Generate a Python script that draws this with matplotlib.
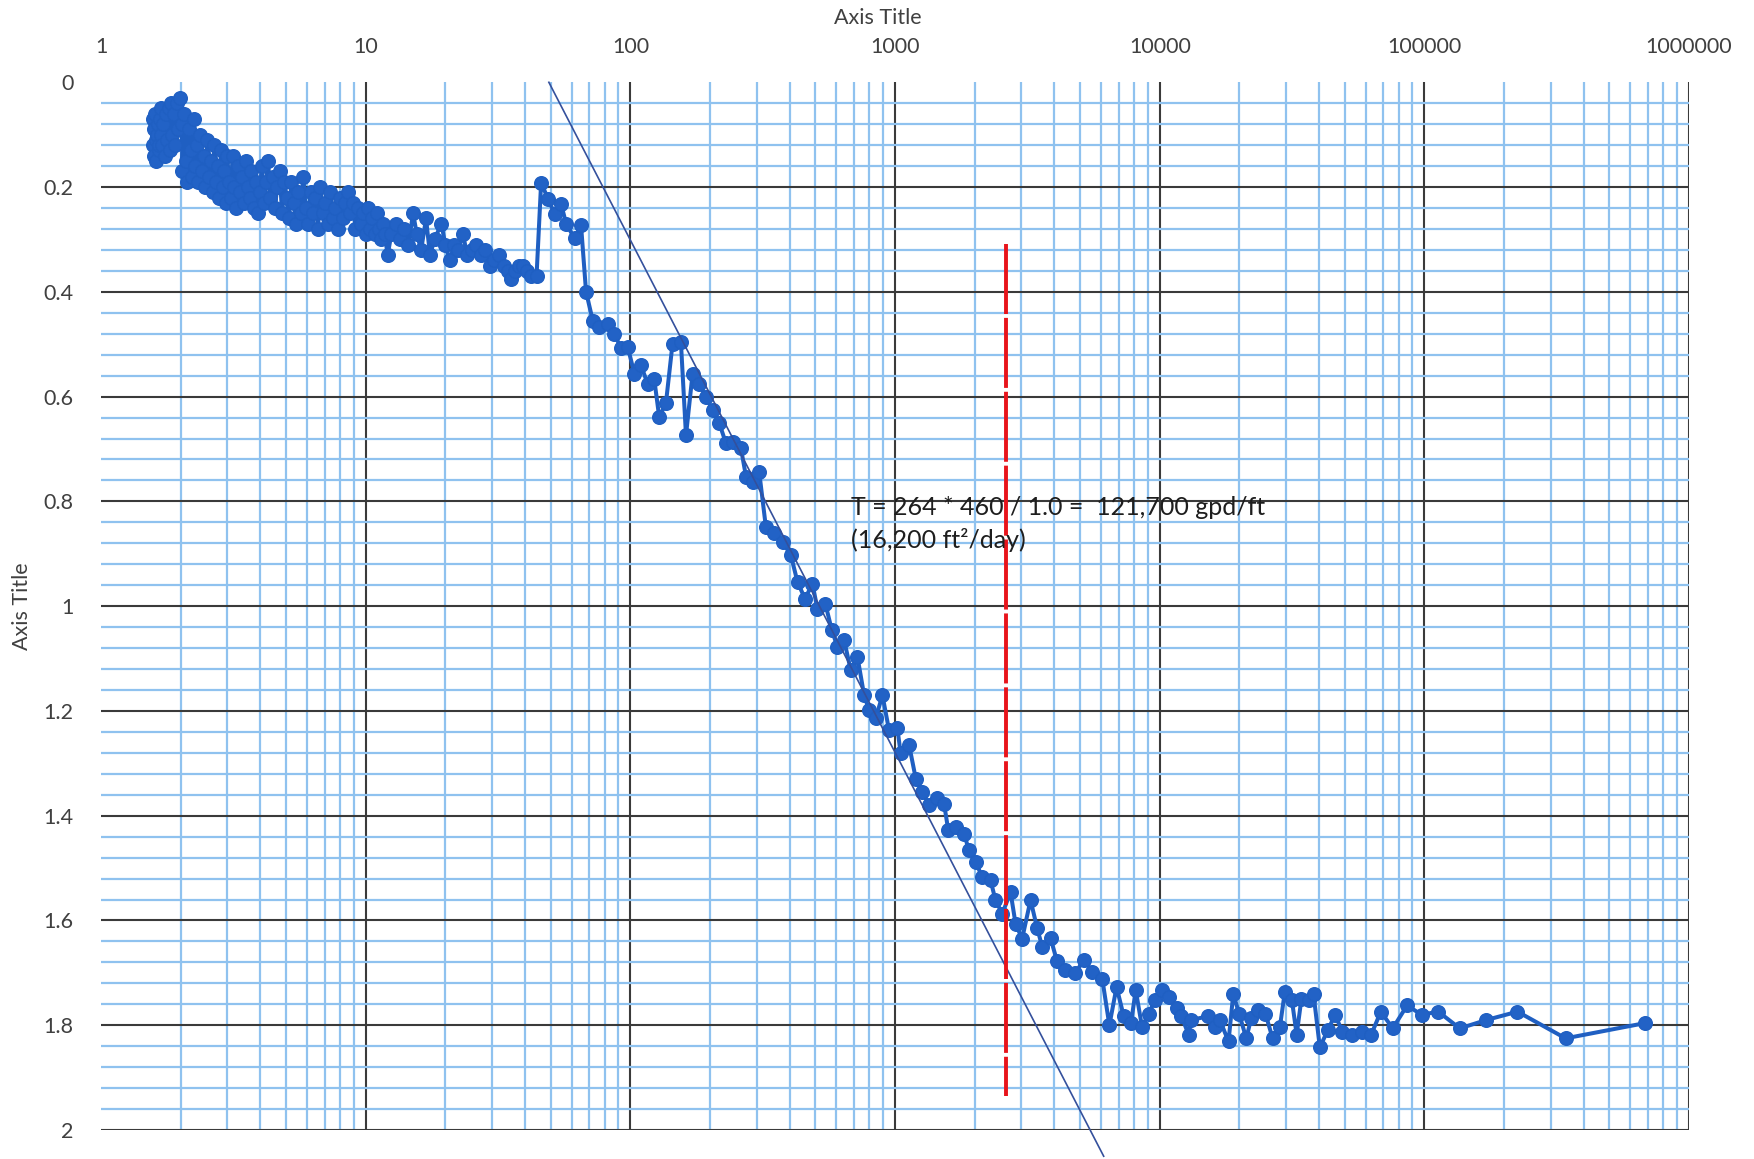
import matplotlib
matplotlib.use('Agg')
import matplotlib.pyplot as plt
from matplotlib.ticker import FixedLocator, LogLocator, MultipleLocator, NullFormatter

plt.rcParams['font.family'] = ['Lato', 'DejaVu Sans']

# drawdown data (time, drawdown)
time_early = [1.57, 1.575, 1.58, 1.59, 1.60, 1.61, 1.62, 1.63, 1.64, 1.65, 1.66, 1.67, 1.68, 1.69,
              1.70, 1.72, 1.74, 1.76, 1.78, 1.80, 1.82, 1.84, 1.86, 1.88, 1.90, 1.93, 1.96, 1.99, 2.02,
              2.03, 2.06, 2.09, 2.12, 2.15, 2.18, 2.21, 2.24, 2.27, 2.30, 2.33, 2.36, 2.40, 2.44,
              2.48, 2.52, 2.56, 2.60, 2.64, 2.68, 2.72, 2.76, 2.80, 2.84, 2.88, 2.92, 2.96, 3.00, 3.04,
              3.09, 3.14, 3.19, 3.24, 3.29, 3.34, 3.40, 3.46, 3.52, 3.58, 3.64, 3.70, 3.77, 3.84,
              3.91, 3.98, 4.05, 4.12, 4.20, 4.28, 4.36, 4.45, 4.54, 4.63, 4.73, 4.83, 4.93, 5.03,
              5.13, 5.24, 5.35, 5.46, 5.57, 5.69, 5.81, 5.93, 6.06, 6.19, 6.32, 6.46, 6.60, 6.74,
              6.89, 7.04, 7.19, 7.35, 7.51, 7.68, 7.85, 8.02, 8.20, 8.38, 8.57, 8.76, 8.95, 9.15,
              9.35, 9.56, 9.77, 9.99,
              10.2, 10.4, 10.6, 10.8, 11.0, 11.2, 11.4, 11.6, 11.8, 12.1,
              12.5, 13.0, 13.5, 14.0, 14.5, 15.1, 15.6, 16.2, 16.9, 17.5, 18.2, 19.3, 20.0, 20.8,
              21.6, 22.4, 23.3, 24.2, 25.2, 26.2, 27.2, 28.3, 29.4, 30.6, 32.0, 33.4, 34.5, 35.5,
              36.8, 38.0, 39.2, 40.6, 42.3, 44.2]
dd_early = [0.07, 0.12, 0.14, 0.09, 0.06, 0.11, 0.15, 0.10, 0.08, 0.13, 0.12, 0.07, 0.05, 0.10,
            0.12, 0.08, 0.14, 0.06, 0.11, 0.05, 0.13, 0.04, 0.10, 0.06, 0.12, 0.04, 0.09, 0.03, 0.08,
            0.17, 0.06, 0.15, 0.19, 0.09, 0.13, 0.18, 0.07, 0.16, 0.12, 0.19, 0.10, 0.17, 0.14,
            0.20, 0.11, 0.18, 0.15, 0.21, 0.12, 0.19, 0.16, 0.22, 0.13, 0.20, 0.17, 0.23, 0.14, 0.19,
            0.22, 0.14, 0.20, 0.24, 0.16, 0.21, 0.18, 0.23, 0.15, 0.20, 0.22, 0.17, 0.24, 0.19,
            0.25, 0.21, 0.16, 0.23, 0.19, 0.15, 0.22, 0.18, 0.24, 0.20, 0.17, 0.25, 0.19, 0.22,
            0.26, 0.19, 0.23, 0.27, 0.21, 0.25, 0.18, 0.24, 0.27, 0.21, 0.25, 0.22, 0.28, 0.20,
            0.25, 0.23, 0.27, 0.21, 0.26, 0.24, 0.28, 0.22, 0.26, 0.23, 0.21, 0.25, 0.23, 0.28,
            0.24, 0.27, 0.25, 0.29,
            0.24, 0.28, 0.26, 0.29, 0.25, 0.28, 0.30, 0.27, 0.29, 0.33,
            0.29, 0.27, 0.30, 0.28, 0.31, 0.25, 0.29, 0.32, 0.26, 0.33, 0.30, 0.27, 0.31, 0.34,
            0.31, 0.32, 0.29, 0.33, 0.32, 0.31, 0.33, 0.32, 0.35, 0.34, 0.33, 0.35, 0.36, 0.375,
            0.36, 0.35, 0.35, 0.36, 0.37, 0.37]

time_late = [46.0, 48.8, 51.7, 54.7, 57.2, 61.5, 65.1, 68.0, 72.1, 76.4, 82.1, 87.0, 92.2, 97.7,
             103.5, 109.6, 116.1, 123.0, 128.5, 136.2, 144.3, 155.2, 162.2, 171.8, 181.9, 193.1,
             204.6, 216.8, 229.6, 243.4, 261.7, 273.5, 289.7, 306.7, 325, 349, 376, 404, 428, 457,
             487, 509, 545, 577, 606, 642, 680, 721, 764, 797, 845, 896, 949, 1020, 1050, 1130,
             1197, 1268, 1343, 1445, 1531, 1589, 1694, 1821, 1902, 2014, 2134, 2294, 2395, 2541,
             2731, 2852, 3020, 3250, 3443, 3597, 3866, 4096, 4404, 4805, 5166, 5560, 6063, 6452,
             6868, 7313, 7786, 8115, 8570, 9082, 9590, 10210, 10880, 11580, 12080, 12860, 13130,
             15180, 16170, 16870, 18190, 18960, 19940, 21230, 22150, 23570, 25080, 26700, 28450,
             29670, 31570, 32910, 34310, 36530, 38100, 40250, 43180, 45960, 48950, 53210, 57880,
             62930, 68430, 75910, 86020, 97530, 112800, 136000, 171300, 224700, 341500, 679800]
dd_late = [0.192, 0.222, 0.251, 0.232, 0.270, 0.298, 0.273, 0.400, 0.455, 0.467, 0.461, 0.480,
           0.508, 0.505, 0.556, 0.540, 0.575, 0.566, 0.639, 0.613, 0.499, 0.496, 0.674, 0.556,
           0.575, 0.601, 0.626, 0.651, 0.689, 0.686, 0.699, 0.753, 0.763, 0.744, 0.849, 0.861,
           0.877, 0.903, 0.954, 0.986, 0.957, 1.005, 0.995, 1.046, 1.078, 1.065, 1.122, 1.097,
           1.170, 1.198, 1.214, 1.170, 1.237, 1.233, 1.281, 1.265, 1.329, 1.354, 1.380, 1.367,
           1.377, 1.428, 1.421, 1.434, 1.466, 1.488, 1.517, 1.523, 1.561, 1.587, 1.546, 1.606,
           1.635, 1.561, 1.615, 1.650, 1.634, 1.678, 1.694, 1.700, 1.675, 1.698, 1.711, 1.800,
           1.727, 1.783, 1.796, 1.733, 1.803, 1.778, 1.752, 1.733, 1.746, 1.768, 1.783, 1.818,
           1.790, 1.783, 1.803, 1.790, 1.831, 1.740, 1.778, 1.825, 1.787, 1.771, 1.778, 1.825,
           1.803, 1.737, 1.752, 1.818, 1.749, 1.752, 1.740, 1.842, 1.809, 1.780, 1.812, 1.818,
           1.812, 1.818, 1.774, 1.806, 1.762, 1.780, 1.774, 1.806, 1.790, 1.774, 1.825, 1.796]

# straight-line fit and the marker line
trend_x = [49.2, 6140]
trend_y = [0.0, 2.05]
marker_x = [2630, 2630]
marker_y = [0.309, 1.936]

xticks = [1, 10, 100, 1000, 10000, 100000, 1000000]
xticklabels = ['1', '10', '100', '1000', '10000', '100000', '1000000']
yticks = [0, 0.2, 0.4, 0.6, 0.8, 1.0, 1.2, 1.4, 1.6, 1.8, 2.0]
yticklabels = ['0', '0.2', '0.4', '0.6', '0.8', '1', '1.2', '1.4', '1.6', '1.8', '2']

note = 'T = 264 * 460 / 1.0 =  121,700 gpd/ft\n(16,200 ft\u00b2/day)'

fig = plt.figure(figsize=(17.54, 11.59), dpi=100)
ax = fig.add_axes([0.0576, 0.025, 0.9054, 0.904])

ax.set_xscale('log')
ax.set_xlim(1, 1000000)
ax.set_ylim(2, 0)

t = time_early + time_late
s = dd_early + dd_late
ax.plot(t, s, color='#1f5fc2', lw=2.9, marker='o', ms=9.8, mec='#1f5fc2', mfc='#2262c6', zorder=3)
ax.plot(trend_x, trend_y, color='#34509c', lw=1.2, zorder=4, clip_on=False)
ax.plot(marker_x, marker_y, color='#e8141b', lw=2.8, dashes=(18, 1.0), zorder=5)

ax.text(680, 0.79, note, fontsize=18, color='#1e1e1e', va='top', ha='left',
        linespacing=1.45, zorder=6)

ax.xaxis.set_major_locator(FixedLocator(xticks))
ax.set_xticklabels(xticklabels)
ax.xaxis.set_minor_locator(LogLocator(base=10, subs=[2, 3, 4, 5, 6, 7, 8, 9], numticks=20))
ax.xaxis.set_minor_formatter(NullFormatter())
ax.set_yticks(yticks)
ax.set_yticklabels(yticklabels)
ax.yaxis.set_minor_locator(MultipleLocator(0.04))
ax.xaxis.tick_top()
ax.tick_params(which='both', length=0, labelsize=15.5, labelcolor='#404040')
ax.tick_params(axis='x', pad=18)
ax.tick_params(axis='y', pad=20)

ax.set_axisbelow(True)
ax.grid(which='minor', color='#8fc2ef', lw=1.6)
ax.grid(which='major', color='#3a3a3a', lw=1.5)
for sp in ax.spines.values():
    sp.set_visible(False)

fig.canvas.draw()
for tk in ax.yaxis.get_major_ticks():
    if abs(tk.get_loc()) < 1e-9:
        tk.gridline.set_visible(False)
for tk in ax.xaxis.get_major_ticks():
    if abs(tk.get_loc() - 1) < 1e-9:
        tk.gridline.set_visible(False)

fig.text(0.5006, 0.9845, 'Axis Title', fontsize=15.5, color='#404040', ha='center', va='center')
fig.text(0.0125, 0.477, 'Axis Title', fontsize=15.5, color='#404040', ha='center', va='center',
         rotation=90)

fig.savefig('out.png', dpi=100)
